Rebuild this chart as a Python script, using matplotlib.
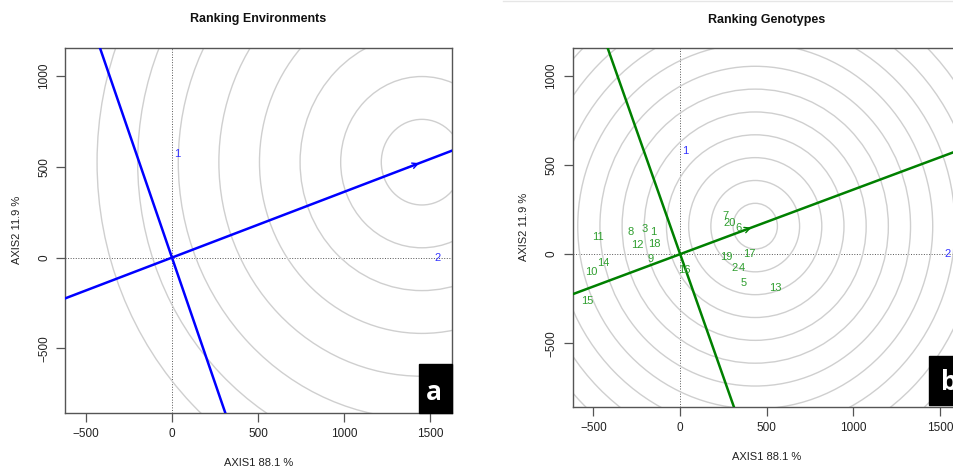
import numpy as np
import matplotlib
matplotlib.use("Agg")
import matplotlib.pyplot as plt
from matplotlib.patches import Circle, Rectangle
from matplotlib.lines import Line2D

plt.rcParams["font.family"] = ["Liberation Sans", "DejaVu Sans"]

# environment scores (AXIS1, AXIS2)
env_labels = ["1", "2"]
env_x = [29, 1545]
env_y = [573, -3]

# genotype scores (AXIS1, AXIS2)
geno_labels = ["1", "2", "3", "4", "5", "6", "7", "8", "9", "10",
               "11", "12", "13", "14", "15", "16", "17", "18", "19", "20"]
geno_x = [-157, 311, -202, 356, 365, 336, 260, -288, -173, -513,
          -475, -246, 548, -442, -538, 25, 400, -150, 265, 288]
geno_y = [125, -80, 139, -75, -161, 144, 213, 125, -28, -99,
          97, 51, -187, -52, -264, -90, -2, 56, -15, 172]

x_ticks = [-500, 0, 500, 1000, 1500]
y_ticks = [-500, 0, 500, 1000]
XLIM = (-620, 1626)
YLIM = (-855, 1157)

W, H = 954, 470


def setup_axes(ax):
    ax.set_xlim(*XLIM)
    ax.set_ylim(*YLIM)
    ax.set_xticks(x_ticks)
    ax.set_yticks(y_ticks)
    ax.set_xticklabels([str(t).replace("-", "\u2212") for t in x_ticks])
    ax.set_yticklabels([str(t).replace("-", "\u2212") for t in y_ticks])
    ax.tick_params(direction="out", length=6.5, width=0.9, color="#555555",
                   labelsize=8.5, labelcolor="#222222", pad=4.5)
    plt.setp(ax.get_yticklabels(), rotation=90, va="center")
    for s in ax.spines.values():
        s.set_color("#555555")
        s.set_linewidth(1.0)
    ax.axhline(0, color="#555555", lw=0.7, ls=":", zorder=1)
    ax.axvline(0, color="#555555", lw=0.7, ls=":", zorder=1)


def draw_aea(ax, color, center, step, nrings, arrow_at):
    for k in range(1, nrings + 1):
        ax.add_patch(Circle(center, k * step, fill=False, ec="#cfcfcf", lw=1.0, zorder=1))
    slope = center[1] / center[0]
    xs = np.array([XLIM[0] - 100, XLIM[1] + 100])
    ax.plot(xs, slope * xs, color=color, lw=1.8, zorder=3)
    ys = np.array([YLIM[0] - 100, YLIM[1] + 100])
    ax.plot(-slope * ys, ys, color=color, lw=1.8, zorder=3)
    ax.annotate("", xy=arrow_at, xytext=(arrow_at[0] * 0.93, arrow_at[1] * 0.93),
                arrowprops=dict(arrowstyle="->", color=color, lw=1.0,
                                mutation_scale=10), zorder=4)


fig = plt.figure(figsize=(W / 100, H / 100), dpi=100)

# average environment axis direction
mx, my = np.mean(env_x), np.mean(env_y)
unit = np.array([mx, my]) / np.hypot(mx, my)

# ---- a: ranking environments
ax1 = fig.add_axes([65.3 / W, 1 - 412.7 / H, 386.4 / W, 365 / H])
setup_axes(ax1)
ideal_env = unit * max(np.hypot(env_x, env_y))
draw_aea(ax1, "#0000ff", ideal_env, 236, 8, ideal_env)
for lab, x, y in zip(env_labels, env_x, env_y):
    ax1.text(x, y, lab, color="#3333ff", fontsize=8, ha="center", va="center", zorder=5)

# ---- b: ranking genotypes
ax2 = fig.add_axes([572.7 / W, 1 - 406.7 / H, 389.3 / W, 359 / H])
setup_axes(ax2)
proj = np.array(geno_x) * unit[0] + np.array(geno_y) * unit[1]
ideal_geno = unit * proj.max() * 1.02
draw_aea(ax2, "#008000", ideal_geno, 128, 12, ideal_geno * 0.95)
for lab, x, y in zip(geno_labels, geno_x, geno_y):
    ax2.text(x, y, lab, color="#2f9e2f", fontsize=8, ha="center", va="center", zorder=5)
for lab, x, y in zip(env_labels, env_x, env_y):
    ax2.text(x, y + 3, lab, color="#3333ff", fontsize=8, ha="center", va="center", zorder=5)

# titles and axis labels
fig.text(258.5 / W, 1 - 19 / H, "Ranking Environments", ha="center", va="center",
         fontsize=9, fontweight="bold", color="#111111")
fig.text(767 / W, 1 - 20 / H, "Ranking Genotypes", ha="center", va="center",
         fontsize=9, fontweight="bold", color="#111111")
fig.text(258.5 / W, 1 - 463 / H, "AXIS1 88.1 %", ha="center", va="center", fontsize=8, color="#222222")
fig.text(767 / W, 1 - 456.7 / H, "AXIS1 88.1 %", ha="center", va="center", fontsize=8, color="#222222")
fig.text(17 / W, 1 - 230 / H, "AXIS2 11.9 %", ha="center", va="center", rotation=90,
         fontsize=8, color="#222222")
fig.text(524 / W, 1 - 227 / H, "AXIS2 11.9 %", ha="center", va="center", rotation=90,
         fontsize=8, color="#222222")

# panel tags
fig.add_artist(Rectangle((419 / W, 1 - 412.7 / H), 32.7 / W, 48.7 / H,
                         transform=fig.transFigure, color="black", zorder=10))
fig.text(434 / W, 1 - 393 / H, "a", ha="center", va="center", color="white",
         fontsize=19, fontweight="bold", family=["Open Sans", "DejaVu Sans"], zorder=11)
fig.add_artist(Rectangle((929.3 / W, 1 - 405 / H), 30 / W, 49 / H,
                         transform=fig.transFigure, color="black", zorder=10))
fig.text(949 / W, 1 - 382 / H, "b", ha="center", va="center", color="white",
         fontsize=19, fontweight="bold", family=["Open Sans", "DejaVu Sans"], zorder=11)

# faint frame edge of the second picture
fig.add_artist(Line2D([503 / W, 1], [1 - 1 / H, 1 - 1 / H], transform=fig.transFigure,
                      color="#e6e6e6", lw=1))

fig.savefig("out.png", dpi=100)
